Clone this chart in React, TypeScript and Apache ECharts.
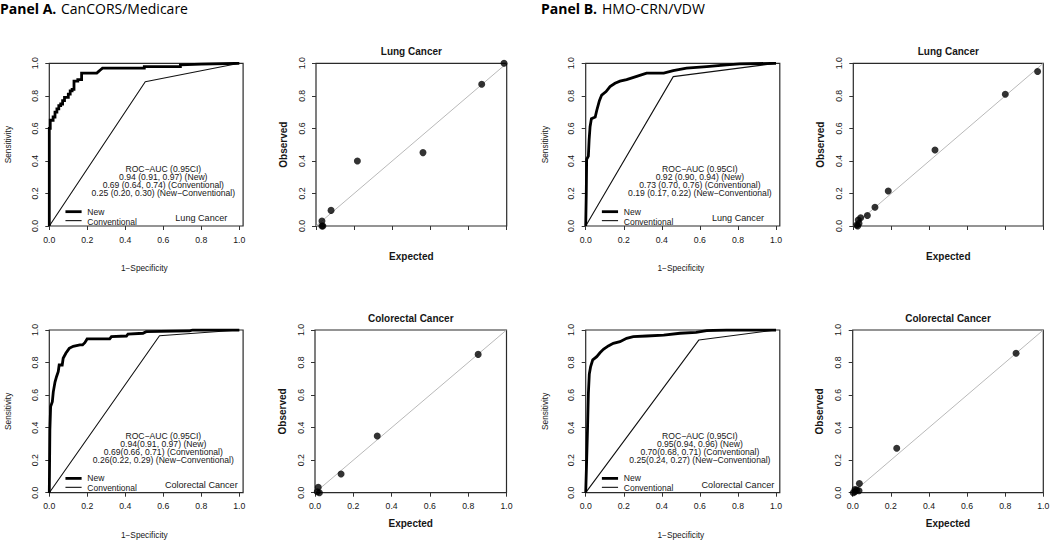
import React, { useEffect, useRef } from "react";
import * as echarts from "echarts";

// ---------- data ----------
const axisTicks = [0, 0.2, 0.4, 0.6, 0.8, 1.0];

// ROC curves: [1-Specificity, Sensitivity]
const rocALungNew = [[0,0],[0,0.6],[0.005,0.6],[0.005,0.65],[0.02,0.65],[0.02,0.67],[0.03,0.67],[0.03,0.7],[0.04,0.7],[0.04,0.72],[0.05,0.72],[0.05,0.74],[0.06,0.74],[0.06,0.75],[0.07,0.75],[0.07,0.77],[0.08,0.77],[0.08,0.79],[0.1,0.79],[0.1,0.81],[0.11,0.81],[0.11,0.83],[0.12,0.83],[0.12,0.84],[0.13,0.84],[0.13,0.89],[0.15,0.89],[0.15,0.9],[0.17,0.9],[0.17,0.94],[0.25,0.94],[0.26,0.95],[0.27,0.96],[0.28,0.97],[0.5,0.97],[0.5,0.98],[0.69,0.98],[0.69,0.99],[0.8,0.995],[1,1]];
const rocALungConv = [[0,0],[0.505,0.887],[1,1]];
const rocACrcNew = [[0,0],[0.003,0.385],[0.007,0.53],[0.016,0.56],[0.021,0.62],[0.03,0.68],[0.038,0.713],[0.047,0.744],[0.052,0.785],[0.068,0.785],[0.073,0.826],[0.087,0.857],[0.105,0.887],[0.126,0.9],[0.161,0.908],[0.175,0.908],[0.187,0.922],[0.199,0.945],[0.318,0.945],[0.327,0.959],[0.406,0.963],[0.414,0.975],[0.493,0.98],[0.51,0.99],[0.738,0.994],[0.755,1],[1,1]];
const rocACrcConv = [[0,0],[0.58,0.965],[1,1]];
const rocBLungNew = [[0,0],[0.003,0.2],[0.005,0.41],[0.014,0.43],[0.018,0.53],[0.023,0.61],[0.03,0.66],[0.05,0.67],[0.058,0.71],[0.072,0.77],[0.084,0.805],[0.107,0.826],[0.128,0.857],[0.154,0.877],[0.18,0.89],[0.215,0.9],[0.268,0.92],[0.32,0.94],[0.41,0.94],[0.46,0.955],[0.53,0.97],[0.636,0.98],[0.74,0.99],[0.81,0.996],[1,1]];
const rocBLungConv = [[0,0],[0.46,0.918],[1,1]];
const rocBCrcNew = [[0,0],[0.005,0.2],[0.01,0.41],[0.014,0.61],[0.019,0.73],[0.026,0.775],[0.037,0.816],[0.058,0.836],[0.075,0.86],[0.093,0.881],[0.119,0.902],[0.145,0.918],[0.18,0.928],[0.215,0.949],[0.25,0.959],[0.32,0.963],[0.41,0.969],[0.496,0.98],[0.58,0.986],[0.636,0.996],[0.74,1],[1,1]];
const rocBCrcConv = [[0,0],[0.595,0.939],[1,1]];

// Calibration points: [Expected, Observed]
const calALung = [[0.031,0.031],[0.031,0.0],[0.036,0.0],[0.079,0.096],[0.217,0.4],[0.561,0.451],[0.869,0.871],[0.986,1.0]];
const calBLung = [[0.018,0.006],[0.023,0],[0.03,0.016],[0.026,0.037],[0.039,0.051],[0.074,0.064],[0.114,0.115],[0.184,0.215],[0.43,0.467],[0.8,0.81],[0.97,0.95]];
const calACrc = [[0.012,0.006],[0.017,0.033],[0.023,0],[0.136,0.115],[0.325,0.348],[0.852,0.85]];
const calBCrc = [[0.003,0],[0.012,0.006],[0.012,0.02],[0.021,0.016],[0.033,0.012],[0.035,0.057],[0.231,0.273],[0.857,0.857]];
const identityLine = [[0,0],[1,1]];

// AUC annotation texts
const aucALung = ["ROC\u2212AUC (0.95CI)", "0.94 (0.91, 0.97) (New)", "0.69 (0.64, 0.74) (Conventional)", "0.25 (0.20, 0.30) (New\u2212Conventional)"];
const aucACrc = ["ROC\u2212AUC (0.95CI)", "0.94(0.91, 0.97) (New)", "0.69(0.66, 0.71) (Conventional)", "0.26(0.22, 0.29) (New\u2212Conventional)"];
const aucBLung = ["ROC\u2212AUC (0.95CI)", "0.92 (0.90, 0.94) (New)", "0.73 (0.70, 0.76) (Conventional)", "0.19 (0.17, 0.22) (New\u2212Conventional)"];
const aucBCrc = ["ROC\u2212AUC (0.95CI)", "0.95(0.94, 0.96) (New)", "0.70(0.68, 0.71) (Conventional)", "0.25(0.24, 0.27) (New\u2212Conventional)"];

const cancerLung = "Lung Cancer";
const cancerCrc = "Colorectal Cancer";
const legendNames = ["New", "Conventional"];
const headerBold = ["Panel A.", "Panel B."];
const headerRest = ["CanCORS/Medicare", "HMO-CRN/VDW"];

// ---------- layout ----------
type Panel = { left: number; top: number; uw: number; uh: number; xMax: number; kind: "roc" | "cal"; xLabels: boolean };
const UH = 162.7;
const panels: Panel[] = [
  { left: 49.3, top: 63.3, uw: 190, uh: UH, xMax: 1.02, kind: "roc", xLabels: true },
  { left: 316, top: 63.3, uw: 190.7, uh: UH, xMax: 1, kind: "cal", xLabels: false },
  { left: 585.7, top: 63.3, uw: 190.3, uh: UH, xMax: 1.02, kind: "roc", xLabels: true },
  { left: 853.3, top: 63.3, uw: 190, uh: UH, xMax: 1, kind: "cal", xLabels: false },
  { left: 49.3, top: 330, uw: 190, uh: UH, xMax: 1.02, kind: "roc", xLabels: true },
  { left: 315, top: 330, uw: 191.5, uh: UH, xMax: 1, kind: "cal", xLabels: true },
  { left: 585.7, top: 330, uw: 190.3, uh: UH, xMax: 1.02, kind: "roc", xLabels: true },
  { left: 852.7, top: 330, uw: 190.6, uh: UH, xMax: 1, kind: "cal", xLabels: true },
];

const FONT = "'Liberation Sans', Arial, Helvetica, sans-serif";
const HEAD_FONT = "'Open Sans', Lato, sans-serif";
const INK = "#161616";

export default function App() {
  const ref = useRef<HTMLDivElement>(null);
  useEffect(() => {
    if (!ref.current) return;
    const chart = echarts.init(ref.current, undefined, { renderer: "svg" });
    const px = (p: Panel, x: number) => p.left + x * p.uw;
    const py = (p: Panel, y: number) => p.top + (1 - y) * p.uh;

    const grids = panels.map((p) => ({
      left: p.left, top: p.top, width: p.uw * p.xMax, height: p.uh,
      show: true, borderColor: "#2a2a2a", borderWidth: 1.2, containLabel: false, outerBoundsMode: "none",
    }));
    const xAxes = panels.map((p, i) => ({
      type: "value", gridIndex: i, min: 0, max: p.xMax,
      axisLine: { show: false }, splitLine: { show: false },
      axisTick: { show: true, length: 4, lineStyle: { color: "#333", width: 1 }, customValues: axisTicks },
      axisLabel: { show: p.xLabels, customValues: axisTicks, fontSize: 8.7, color: INK, fontFamily: FONT, margin: 9,
        formatter: (v: number) => Number(v).toFixed(1) },
    }));
    const yAxes = panels.map((p, i) => ({
      type: "value", gridIndex: i, min: 0, max: 1,
      axisLine: { show: false }, splitLine: { show: false },
      axisTick: { show: true, length: 4, lineStyle: { color: "#333", width: 1 }, customValues: axisTicks },
      axisLabel: { show: true, customValues: axisTicks, rotate: 90, fontSize: 8.7, color: INK, fontFamily: FONT, margin: 10,
        formatter: (v: number) => Number(v).toFixed(1) },
    }));

    const rocSets = [
      { idx: 0, nw: rocALungNew, cv: rocALungConv },
      { idx: 2, nw: rocBLungNew, cv: rocBLungConv },
      { idx: 4, nw: rocACrcNew, cv: rocACrcConv },
      { idx: 6, nw: rocBCrcNew, cv: rocBCrcConv },
    ];
    const calSets = [
      { idx: 1, pts: calALung },
      { idx: 3, pts: calBLung },
      { idx: 5, pts: calACrc },
      { idx: 7, pts: calBCrc },
    ];
    const series: any[] = [];
    rocSets.forEach((s) => {
      series.push({ type: "line", xAxisIndex: s.idx, yAxisIndex: s.idx, data: s.cv, symbol: "none",
        lineStyle: { color: "#111", width: 1.1 }, z: 2 });
      series.push({ type: "line", xAxisIndex: s.idx, yAxisIndex: s.idx, data: s.nw, symbol: "none",
        lineStyle: { color: "#000", width: 2.8, join: "miter" }, z: 3 });
    });
    calSets.forEach((s) => {
      series.push({ type: "line", xAxisIndex: s.idx, yAxisIndex: s.idx, data: identityLine, symbol: "none",
        lineStyle: { color: "#b9b9b9", width: 1 }, z: 2 });
      series.push({ type: "scatter", xAxisIndex: s.idx, yAxisIndex: s.idx, data: s.pts, symbol: "circle", symbolSize: 7,
        itemStyle: { color: "#000" }, z: 3 });
    });

    const graphic: any[] = [];
    const txt = (x: number, y: number, text: string, size: number, opts: any = {}) => {
      graphic.push({ type: "text", x, y, rotation: opts.rotation || 0, silent: true,
        style: { text, fontSize: size, fontFamily: opts.family || FONT, fontWeight: opts.bold ? "bold" : "normal",
          fill: opts.fill || INK, align: opts.align || "center", verticalAlign: opts.valign || "middle" } });
    };

    // panel headers (bold lead + normal rest)
    const restOffset = [61, 61];
    headerBold.forEach((b, j) => {
      const x0 = j === 0 ? 0 : 541;
      txt(x0, 1, b, 14, { family: HEAD_FONT, bold: true, align: "left", valign: "top", fill: "#000" });
      txt(x0 + restOffset[j], 1, headerRest[j], 14, { family: HEAD_FONT, align: "left", valign: "top", fill: "#000" });
    });

    const aucTexts = [aucALung, aucBLung, aucACrc, aucBCrc];
    rocSets.forEach((s, k) => {
      const p = panels[s.idx];
      const cy = p.top + p.uh / 2;
      txt(p.left - 41, cy, "Sensitivity", 8.3, { rotation: Math.PI / 2 });
      txt(px(p, 0.5), p.top + p.uh + 42, "1\u2212Specificity", 8.3);
      aucTexts[k].forEach((line, r) => txt(px(p, 0.6), py(p, 0.35 - r * 0.05), line, 8.6));
      // legend
      graphic.push({ type: "line", silent: true, shape: { x1: px(p, 0.085), y1: py(p, 0.088), x2: px(p, 0.17), y2: py(p, 0.088) },
        style: { stroke: "#000", lineWidth: 2.8 } });
      graphic.push({ type: "line", silent: true, shape: { x1: px(p, 0.085), y1: py(p, 0.033), x2: px(p, 0.17), y2: py(p, 0.033) },
        style: { stroke: "#111", lineWidth: 1.1 } });
      txt(px(p, 0.2), py(p, 0.088), legendNames[0], 8.5, { align: "left" });
      txt(px(p, 0.2), py(p, 0.026), legendNames[1], 8.5, { align: "left" });
      txt(px(p, 0.8), py(p, 0.05), k < 2 ? cancerLung : cancerCrc, 9.1);
    });
    calSets.forEach((s, k) => {
      const p = panels[s.idx];
      const cx = px(p, 0.5);
      txt(cx, p.top - 11.8, k < 2 ? cancerLung : cancerCrc, 10, { bold: true });
      txt(p.left - 33, p.top + p.uh / 2, "Observed", 10, { bold: true, rotation: Math.PI / 2 });
      txt(cx, p.top + p.uh + 30.7, "Expected", 10, { bold: true });
    });

    chart.setOption({
      animation: false,
      backgroundColor: "#fff",
      grid: grids,
      xAxis: xAxes,
      yAxis: yAxes,
      series,
      graphic,
    });
    return () => chart.dispose();
  }, []);
  return <div ref={ref} style={{ position: "fixed", left: 0, top: 0, width: 1050, height: 541, background: "#fff" }} />;
}
